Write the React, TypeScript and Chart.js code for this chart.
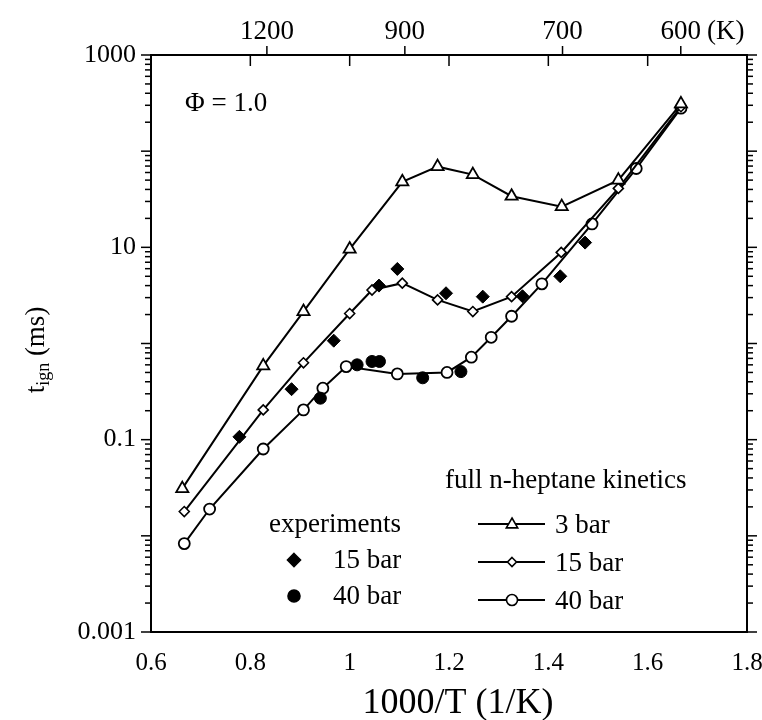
import React, { useEffect, useRef } from 'react';
import { Chart, registerables } from 'chart.js';

Chart.register(...registerables);

const FONT = '"Liberation Serif", "DejaVu Serif", serif';

// ---- data ----
const modelX3 = [0.663, 0.826, 0.907, 1.0, 1.106, 1.177, 1.248, 1.326, 1.427, 1.541, 1.667];
const model3 = [0.031, 0.585, 2.15, 9.6, 48, 69, 57, 34, 26.5, 50, 310];

const modelX15 = [0.667, 0.826, 0.907, 1.0, 1.045, 1.106, 1.177, 1.248, 1.326, 1.426, 1.541, 1.667];
const model15 = [0.0179, 0.204, 0.63, 2.05, 3.6, 4.24, 2.84, 2.15, 3.07, 8.85, 41, 290];

const modelX40 = [0.667, 0.718, 0.826, 0.907, 0.946, 0.993, 1.096, 1.196, 1.245, 1.285, 1.326, 1.387, 1.488, 1.577, 1.667];
const model40 = [0.0083, 0.019, 0.08, 0.204, 0.343, 0.575, 0.483, 0.5, 0.72, 1.16, 1.92, 4.17, 17.5, 66, 280];

const expX15 = [0.778, 0.883, 0.968, 1.059, 1.096, 1.194, 1.268, 1.348, 1.424, 1.474];
const exp15 = [0.107, 0.335, 1.07, 4.0, 5.96, 3.33, 3.07, 3.1, 5.0, 11.2];

const expX40 = [0.941, 1.015, 1.045, 1.06, 1.147, 1.224];
const exp40 = [0.27, 0.6, 0.65, 0.65, 0.44, 0.51];

const xTickValues = [0.6, 0.8, 1, 1.2, 1.4, 1.6, 1.8];
const yDecades = [0.001, 0.01, 0.1, 1, 10, 100, 1000];
const yLabeled = [0.001, 0.1, 10, 1000];
const yTickLabels = ['0.001', '0.1', '10', '1000'];
const topTemps = [1200, 900, 700, 600];
const topTempLabels = ['1200', '900', '700', '600'];

const pts = (xs: number[], ys: number[]) => xs.map((x, i) => ({ x, y: ys[i] }));

function drawMarker(ctx: CanvasRenderingContext2D, kind: string, x: number, y: number, r: number, filled: boolean) {
  ctx.save();
  ctx.beginPath();
  if (kind === 'triangle') {
    ctx.moveTo(x, y - r);
    ctx.lineTo(x + r * 0.95, y + r * 0.65);
    ctx.lineTo(x - r * 0.95, y + r * 0.65);
    ctx.closePath();
  } else if (kind === 'diamond') {
    ctx.moveTo(x, y - r);
    ctx.lineTo(x + r, y);
    ctx.lineTo(x, y + r);
    ctx.lineTo(x - r, y);
    ctx.closePath();
  } else {
    ctx.arc(x, y, r, 0, Math.PI * 2);
  }
  ctx.fillStyle = filled ? '#000' : '#fff';
  ctx.fill();
  ctx.lineWidth = 1.6;
  ctx.strokeStyle = '#000';
  ctx.stroke();
  ctx.restore();
}

export default function App() {
  const ref = useRef<HTMLCanvasElement>(null);

  useEffect(() => {
    const canvas = ref.current;
    if (!canvas) return;

    const decorPlugin = {
      id: 'decor',
      beforeDraw(chart: any) {
        const ctx = chart.ctx;
        ctx.save();
        ctx.fillStyle = '#fff';
        ctx.fillRect(0, 0, chart.width, chart.height);
        ctx.restore();
      },
      afterDraw(chart: any) {
        const ctx: CanvasRenderingContext2D = chart.ctx;
        const a = chart.chartArea;
        const xs = chart.scales.x;
        const ys = chart.scales.y;
        const seg = (x1: number, y1: number, x2: number, y2: number) => {
          ctx.beginPath();
          ctx.moveTo(x1, y1);
          ctx.lineTo(x2, y2);
          ctx.stroke();
        };
        ctx.save();
        ctx.strokeStyle = '#000';
        ctx.lineWidth = 2;
        ctx.strokeRect(a.left, a.top, a.right - a.left, a.bottom - a.top);

        // log ticks on left and right (outward)
        ctx.lineWidth = 1.5;
        for (let e = -3; e <= 3; e++) {
          for (let m = 1; m <= 9; m++) {
            const v = m * Math.pow(10, e);
            if (v > 1000.0001) break;
            const py = ys.getPixelForValue(v);
            const len = m === 1 ? 10 : 6;
            seg(a.left - len, py, a.left, py);
            seg(a.right, py, a.right + len, py);
          }
        }
        // top inward ticks at x major positions
        for (const v of xTickValues) {
          if (v <= 0.6 || v >= 1.8) continue;
          const px = xs.getPixelForValue(v);
          seg(px, a.top, px, a.top + 11);
        }
        // top outward ticks at temperature positions
        ctx.fillStyle = '#000';
        ctx.font = `27px ${FONT}`;
        ctx.textBaseline = 'alphabetic';
        topTemps.forEach((T, i) => {
          const px = xs.getPixelForValue(1000 / T);
          seg(px, a.top - 9, px, a.top);
          ctx.textAlign = 'center';
          ctx.fillText(topTempLabels[i], px, 39);
          if (i === topTemps.length - 1) {
            const w = ctx.measureText(topTempLabels[i]).width;
            ctx.textAlign = 'left';
            ctx.fillText('(K)', px + w / 2 + 6, 39);
          }
        });

        // x title
        ctx.textAlign = 'center';
        ctx.font = `36px ${FONT}`;
        ctx.fillText('1000/T (1/K)', 458, 713);

        // y title with subscript
        ctx.save();
        ctx.translate(44, 350);
        ctx.rotate(-Math.PI / 2);
        ctx.textAlign = 'left';
        const big = `27px ${FONT}`;
        const small = `18px ${FONT}`;
        ctx.font = big;
        const wt = ctx.measureText('t').width;
        ctx.font = small;
        const wi = ctx.measureText('ign').width;
        ctx.font = big;
        const wm = ctx.measureText(' (ms)').width;
        let cx = -(wt + wi + wm) / 2;
        ctx.fillText('t', cx, 0);
        cx += wt;
        ctx.font = small;
        ctx.fillText('ign', cx, 5);
        cx += wi;
        ctx.font = big;
        ctx.fillText(' (ms)', cx, 0);
        ctx.restore();

        // phi label
        ctx.textAlign = 'left';
        ctx.textBaseline = 'middle';
        ctx.font = `27px ${FONT}`;
        ctx.fillText('\u03A6 = 1.0', 185, 104);

        // legends
        ctx.font = `27px ${FONT}`;
        ctx.fillText('full n-heptane kinetics', 445, 481);
        const mk = [
          { kind: 'triangle', r: 6, label: '3 bar', y: 524 },
          { kind: 'diamond', r: 4.5, label: '15 bar', y: 562 },
          { kind: 'circle', r: 5.5, label: '40 bar', y: 600 },
        ];
        ctx.lineWidth = 2;
        for (const m of mk) {
          seg(478, m.y, 545, m.y);
          drawMarker(ctx, m.kind, 512, m.y, m.r, false);
          ctx.fillStyle = '#000';
          ctx.fillText(m.label, 555, m.y + 2);
        }
        ctx.fillText('experiments', 269, 525);
        drawMarker(ctx, 'diamond', 294, 560, 6.5, true);
        ctx.fillStyle = '#000';
        ctx.fillText('15 bar', 333, 561);
        drawMarker(ctx, 'circle', 294, 596, 6, true);
        ctx.fillStyle = '#000';
        ctx.fillText('40 bar', 333, 597);
        ctx.restore();
      },
    };

    const chart = new Chart(canvas, {
      type: 'line',
      data: {
        datasets: [
          {
            label: 'experiments 15 bar',
            data: pts(expX15, exp15),
            showLine: false,
            pointStyle: 'rectRot',
            pointRadius: 6.5,
            pointBackgroundColor: '#000',
            pointBorderColor: '#000',
            pointBorderWidth: 1,
          },
          {
            label: 'experiments 40 bar',
            data: pts(expX40, exp40),
            showLine: false,
            pointStyle: 'circle',
            pointRadius: 6,
            pointBackgroundColor: '#000',
            pointBorderColor: '#000',
            pointBorderWidth: 1,
          },
          {
            label: '3 bar',
            data: pts(modelX3, model3),
            borderColor: '#000',
            borderWidth: 2,
            pointStyle: 'triangle',
            pointRadius: 7,
            pointBackgroundColor: '#fff',
            pointBorderColor: '#000',
            pointBorderWidth: 1.8,
          },
          {
            label: '15 bar',
            data: pts(modelX15, model15),
            borderColor: '#000',
            borderWidth: 2,
            pointStyle: 'rectRot',
            pointRadius: 5,
            pointBackgroundColor: '#fff',
            pointBorderColor: '#000',
            pointBorderWidth: 1.6,
          },
          {
            label: '40 bar',
            data: pts(modelX40, model40),
            borderColor: '#000',
            borderWidth: 2,
            pointStyle: 'circle',
            pointRadius: 5.5,
            pointBackgroundColor: '#fff',
            pointBorderColor: '#000',
            pointBorderWidth: 1.8,
          },
        ],
      },
      options: {
        animation: false,
        responsive: false,
        maintainAspectRatio: false,
        layout: { padding: { left: 0, right: 15, top: 0, bottom: 0 } },
        plugins: { legend: { display: false }, tooltip: { enabled: false }, title: { display: false } },
        elements: { line: { tension: 0 } },
        scales: {
          x: {
            type: 'linear',
            position: 'bottom',
            min: 0.6,
            max: 1.8,
            afterFit: (s: any) => {
              s.height = 88;
              s.paddingLeft = 0;
              s.paddingRight = 0;
            },
            afterBuildTicks: (s: any) => { s.ticks = xTickValues.map((v) => ({ value: v })); },
            grid: { display: false, drawTicks: false },
            border: { display: false },
            ticks: {
              padding: 16,
              color: '#000',
              font: { family: FONT, size: 25 },
              maxRotation: 0,
              autoSkip: false,
              callback: (v: any) => String(Math.round(Number(v) * 10) / 10),
            },
          },
          x2: {
            type: 'linear',
            position: 'top',
            min: 0.6,
            max: 1.8,
            afterFit: (s: any) => {
              s.height = 55;
              s.paddingLeft = 0;
              s.paddingRight = 0;
            },
            grid: { display: false, drawTicks: false },
            border: { display: false },
            ticks: { display: false },
          },
          y: {
            type: 'logarithmic',
            position: 'left',
            min: 0.001,
            max: 1000,
            afterFit: (s: any) => {
              s.width = 151;
              s.paddingTop = 0;
              s.paddingBottom = 0;
            },
            afterBuildTicks: (s: any) => { s.ticks = yDecades.map((v) => ({ value: v })); },
            grid: { display: false, drawTicks: false },
            border: { display: false },
            ticks: {
              padding: 15,
              color: '#000',
              autoSkip: false,
              font: { family: FONT, size: 26 },
              callback: (v: any) => {
                const i = yLabeled.findIndex((t) => Math.abs(Math.log10(t) - Math.log10(Number(v))) < 1e-6);
                return i >= 0 ? yTickLabels[i] : '';
              },
            },
          },
        },
      },
      plugins: [decorPlugin],
    });

    return () => chart.destroy();
  }, []);

  return (
    <div style={{ position: 'absolute', left: 0, top: 0, width: 762, height: 720, background: '#fff' }}>
      <canvas ref={ref} width={762} height={720} style={{ display: 'block', width: 762, height: 720 }} />
    </div>
  );
}
